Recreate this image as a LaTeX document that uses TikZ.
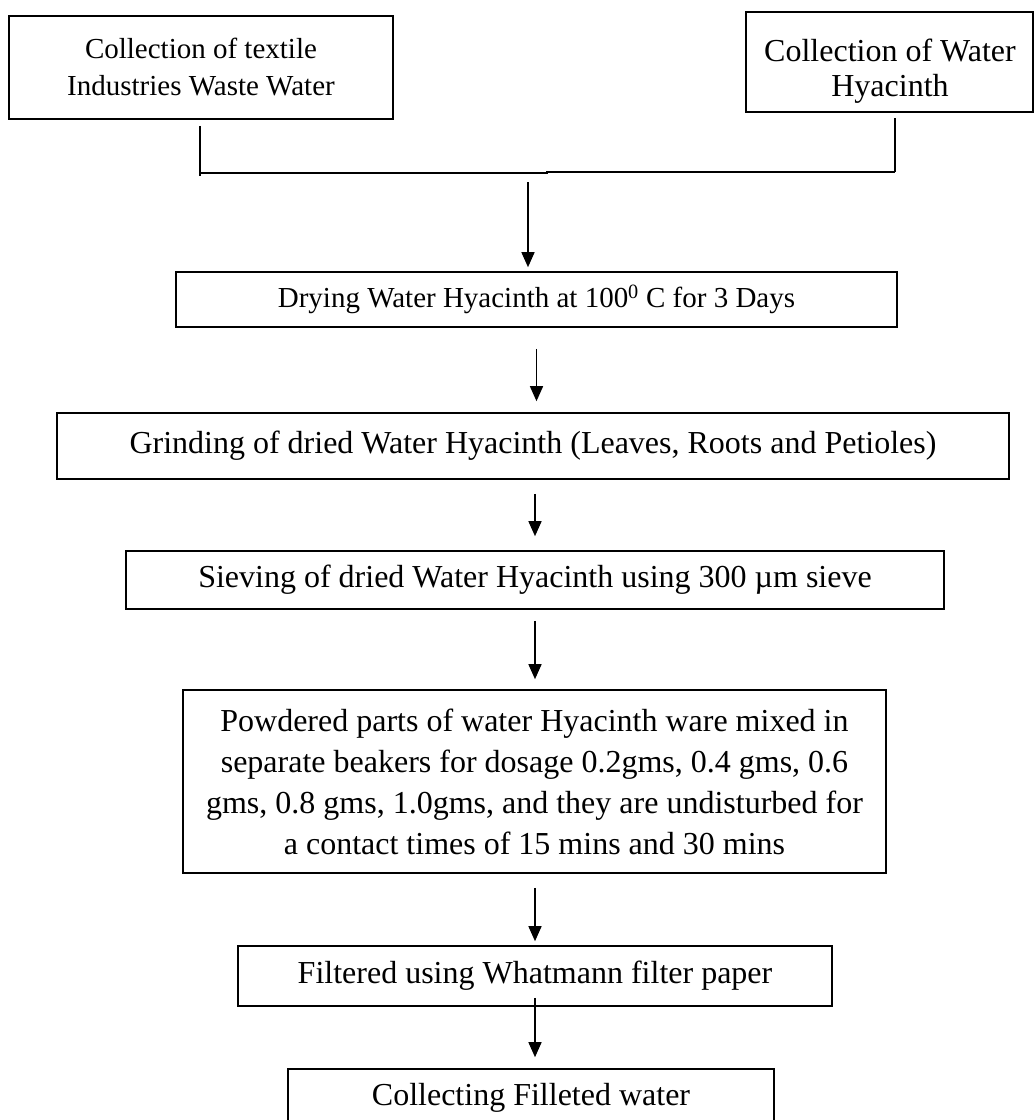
\documentclass[tikz,border=0pt]{standalone}
\usepackage{fontspec}
\setmainfont{Liberation Serif}
\usetikzlibrary{arrows.meta}
\begin{document}
\begin{tikzpicture}[x=1pt,y=-1pt,
  box/.style={draw, line width=1.6pt, inner sep=0pt, align=center, anchor=center},
  fA/.style={font=\fontsize{29}{37}\selectfont},
  fB/.style={font=\fontsize{32}{35.5}\selectfont},
  fC/.style={font=\fontsize{32}{41}\selectfont},
  link/.style={line width=1.4pt},
  arr/.style={line width=1.4pt, -{Triangle[width=13pt,length=15pt]}}]
\useasboundingbox (0,0) rectangle (1034,1120);
\clip (0,0) rectangle (1034,1120);

\node[box,fA,minimum width=384pt,minimum height=103pt] (b1) at (201,67.5)
  {Collection of textile\\Industries Waste Water};
\node[box,minimum width=287pt,minimum height=100pt] (b2) at (889.5,62) {};
\node[fB,align=center,inner sep=0pt] (b2t) at (890,71)
  {Collection of Water\\Hyacinth};
\node[box,fA,minimum width=721pt,minimum height=55pt] (dry) at (536.5,299.5)
  {Drying Water Hyacinth at 100\textsuperscript{0} C for 3 Days};
\node[box,fB,minimum width=952pt,minimum height=66pt] (grind) at (533,446)
  {Grinding of dried Water Hyacinth (Leaves, Roots and Petioles)};
\node[box,fB,minimum width=818pt,minimum height=58pt] (sieve) at (535,580)
  {Sieving of dried Water Hyacinth using 300 µm sieve};
\node[box,fC,minimum width=703pt,minimum height=183pt] (powd) at (534.5,781.5)
  {Powdered parts of water Hyacinth ware mixed in\\separate beakers for dosage 0.2gms, 0.4 gms, 0.6\\gms, 0.8 gms, 1.0gms, and they are undisturbed for\\a contact times of 15 mins and 30 mins};
\node[box,fB,minimum width=594pt,minimum height=60pt] (filt) at (535,976)
  {Filtered using Whatmann filter paper};
\node[box,fB,minimum width=486pt,minimum height=58pt] (coll) at (531,1098)
  {Collecting Filleted water};

\coordinate (jl) at (200,173);
\coordinate (jm) at (547,173);
\coordinate (jr) at (895,172);
\coordinate (ja) at (528,172.5);

\draw[link] (b1.south -| jl) ++(0,6) -- (jl) -- ++(0,3);
\draw[link] (jl) -- (jm) -- ++(0,-1) -- (jr);
\draw[link] (jr) -- ([yshift=-5pt]b2.south -| jr);

\draw[arr] ([yshift=-9.5pt]ja) -- ([yshift=4pt]ja |- dry.north);
\draw[arr] ([yshift=-21pt]dry.south) -- ([yshift=11pt]dry.south |- grind.north);
\draw[arr] ([yshift=-14pt]sieve.north |- grind.south) -- ([yshift=14pt]sieve.north);
\draw[arr] ([yshift=-11pt]sieve.south) -- ([yshift=10pt]sieve.south |- powd.north);
\draw[arr] ([yshift=-14pt]sieve.south |- powd.south) -- ([yshift=4pt]sieve.south |- filt.north);
\draw[arr] ([yshift=9pt]filt.south) -- ([yshift=11pt]filt.south |- coll.north);
\end{tikzpicture}
\end{document}
